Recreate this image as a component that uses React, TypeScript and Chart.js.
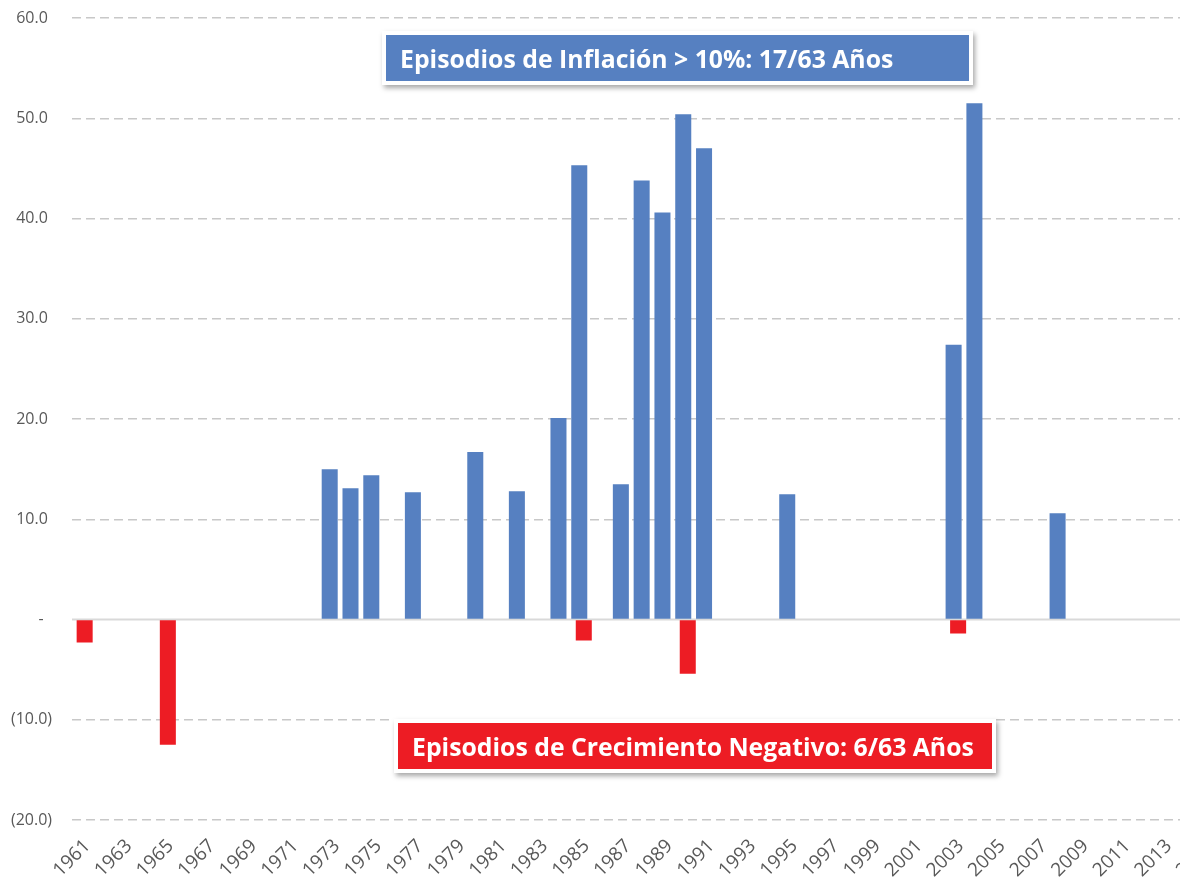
import React, { useEffect, useRef } from 'react';
import { Chart, registerables } from 'chart.js';

Chart.register(...registerables);

const years: string[] = [
  '1961', '1962', '1963', '1964', '1965', '1966', '1967', '1968', '1969', '1970',
  '1971', '1972', '1973', '1974', '1975', '1976', '1977', '1978', '1979', '1980',
  '1981', '1982', '1983', '1984', '1985', '1986', '1987', '1988', '1989', '1990',
  '1991', '1992', '1993', '1994', '1995', '1996', '1997', '1998', '1999', '2000',
  '2001', '2002', '2003', '2004', '2005', '2006', '2007', '2008', '2009', '2010',
  '2011', '2012', '2013', '2014', '2015', '2016', '2017', '2018', '2019', '2020',
  '2021', '2022', '2023',
];

// Inflation episodes > 10%
const inflationYears: string[] = [
  '1973', '1974', '1975', '1977', '1980', '1982', '1984', '1985', '1987',
  '1988', '1989', '1990', '1991', '1995', '2003', '2004', '2008',
];
const inflationValues: number[] = [
  15.0, 13.1, 14.4, 12.7, 16.7, 12.8, 20.1, 45.3, 13.5,
  43.8, 40.6, 50.4, 47.0, 12.5, 27.4, 51.5, 10.6,
];

// Negative growth episodes
const negativeYears: string[] = ['1961', '1965', '1985', '1990', '2003'];
const negativeValues: number[] = [-2.3, -12.5, -2.1, -5.4, -1.4];

const yTicks: number[] = [-20, -10, 0, 10, 20, 30, 40, 50, 60];

const blueTitle = 'Episodios de Inflación > 10%: 17/63 Años';
const redTitle = 'Episodios de Crecimiento Negativo: 6/63 Años';

const BLUE = '#5680C1';
const RED = '#ED1C24';

function seriesFor(keys: string[], vals: number[]): (number | null)[] {
  return years.map((y) => {
    const i = keys.indexOf(y);
    return i >= 0 ? vals[i] : null;
  });
}

function fmt(v: number): string {
  if (v === 0) return '-  ';
  if (v < 0) return '(' + Math.abs(v).toFixed(1) + ')';
  return v.toFixed(1) + ' ';
}

const zeroLine = {
  id: 'zeroLine',
  beforeDatasetsDraw(chart: any) {
    const { ctx, chartArea, scales } = chart;
    const y = scales.y.getPixelForValue(0);
    ctx.save();
    ctx.strokeStyle = '#D9D9D9';
    ctx.lineWidth = 2;
    ctx.beginPath();
    ctx.moveTo(chartArea.left, y);
    ctx.lineTo(chartArea.right, y);
    ctx.stroke();
    ctx.restore();
  },
};

export default function App() {
  const ref = useRef<HTMLCanvasElement | null>(null);

  useEffect(() => {
    if (!ref.current) return;
    const chart = new Chart(ref.current, {
      type: 'bar',
      data: {
        labels: years,
        datasets: [
          {
            label: 'Inflación',
            data: seriesFor(inflationYears, inflationValues),
            backgroundColor: BLUE,
            borderWidth: 0,
          },
          {
            label: 'Crecimiento',
            data: seriesFor(negativeYears, negativeValues),
            backgroundColor: RED,
            borderWidth: 0,
          },
        ],
      },
      options: {
        animation: false,
        responsive: false,
        devicePixelRatio: 1,
        layout: { padding: { top: 18, right: 10, left: 0, bottom: 0 } },
        datasets: {
          bar: { categoryPercentage: 0.434, barPercentage: 3.55 },
        },
        plugins: {
          legend: { display: false },
          tooltip: { enabled: false },
        },
        scales: {
          x: {
            grid: { display: false, drawTicks: false },
            border: { display: false },
            ticks: {
              autoSkip: false,
              maxRotation: 45,
              minRotation: 45,
              color: '#595959',
              padding: 15,
              labelOffset: 5,
              font: { family: 'Open Sans', size: 19 },
              callback: (_v: any, i: number) => (i % 2 === 0 ? years[i] : ''),
            },
            afterFit: (s: any) => {
              s.height = 71;
            },
          },
          y: {
            min: -20,
            max: 60,
            afterBuildTicks: (s: any) => {
              s.ticks = yTicks.map((v) => ({ value: v }));
            },
            ticks: {
              color: '#595959',
              padding: 20,
              font: { family: 'Open Sans', size: 16 },
              callback: (v: any) => fmt(Number(v)),
            },
            grid: {
              drawTicks: false,
              lineWidth: 1.5,
              color: (c: any) => (c.tick && c.tick.value === 0 ? 'rgba(0,0,0,0)' : '#C8C8C8'),
            },
            border: { display: false, dash: [9, 5] },
            afterFit: (s: any) => {
              s.width = 72;
              s.paddingTop = 0;
              s.paddingBottom = 0;
            },
          },
        },
      },
      plugins: [zeroLine],
    });
    return () => chart.destroy();
  }, []);

  const boxText: React.CSSProperties = {
    position: 'absolute',
    boxSizing: 'border-box',
    border: '4px solid #ffffff',
    boxShadow: '2px 3px 5px rgba(0,0,0,0.35)',
    color: '#ffffff',
    fontFamily: '"Open Sans", sans-serif',
    fontWeight: 700,
    fontSize: 24.8,
    display: 'flex',
    alignItems: 'center',
    whiteSpace: 'nowrap',
    paddingLeft: 14,
  };

  return (
    <div
      style={{
        position: 'fixed',
        left: 0,
        top: 0,
        width: 1180,
        height: 891,
        overflow: 'hidden',
        background: '#ffffff',
      }}
    >
      <canvas ref={ref} width={1403} height={891} style={{ position: 'absolute', left: 0, top: 0 }} />
      <div style={{ ...boxText, left: 382, top: 31, width: 591, height: 54, background: BLUE }}>
        {blueTitle}
      </div>
      <div style={{ ...boxText, left: 394, top: 719, width: 602, height: 54, background: RED }}>
        {redTitle}
      </div>
    </div>
  );
}
